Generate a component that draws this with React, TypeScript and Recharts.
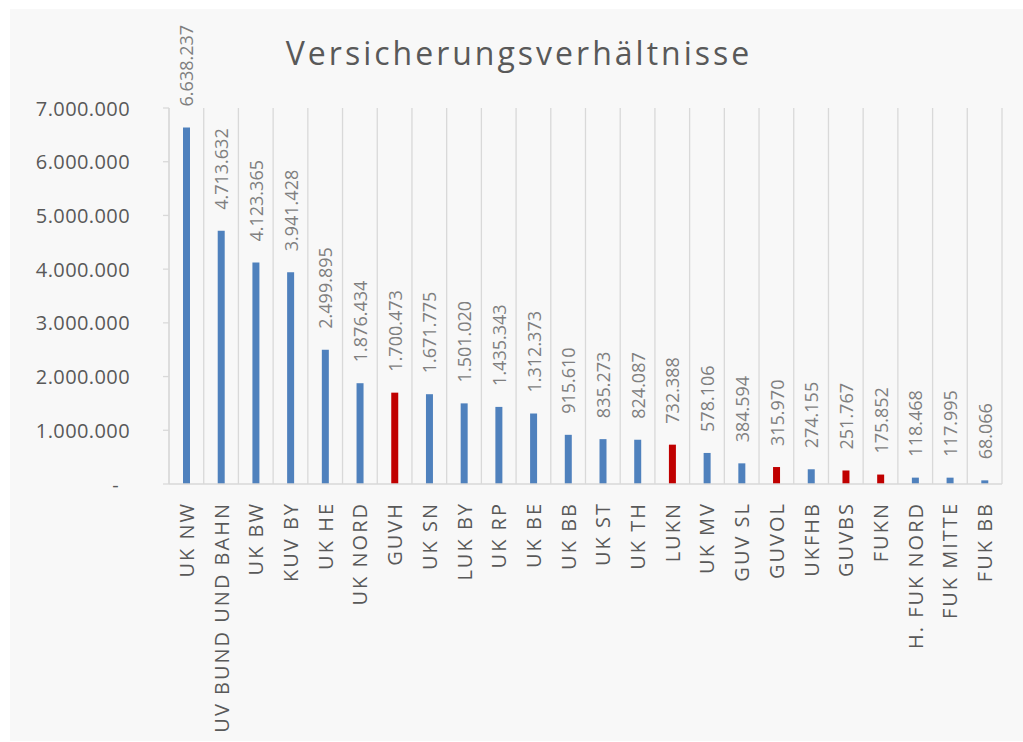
import React from "react";
import { BarChart, Bar, XAxis, YAxis, CartesianGrid, Cell, LabelList } from "recharts";

const categories = [
  "UK NW", "UV BUND UND BAHN", "UK BW", "KUV BY", "UK HE", "UK NORD", "GUVH", "UK SN",
  "LUK BY", "UK RP", "UK BE", "UK BB", "UK ST", "UK TH", "LUKN", "UK MV", "GUV SL",
  "GUVOL", "UKFHB", "GUVBS", "FUKN", "H. FUK NORD", "FUK MITTE", "FUK BB",
];
const values = [
  6638237, 4713632, 4123365, 3941428, 2499895, 1876434, 1700473, 1671775,
  1501020, 1435343, 1312373, 915610, 835273, 824087, 732388, 578106, 384594,
  315970, 274155, 251767, 175852, 118468, 117995, 68066,
];
const highlighted = ["GUVH", "LUKN", "GUVOL", "GUVBS", "FUKN"];
const yTicks = [0, 1000000, 2000000, 3000000, 4000000, 5000000, 6000000, 7000000];
const title = "Versicherungsverhältnisse";

const BLUE = "#4f81bd";
const RED = "#c00000";
const FONT = "'Open Sans', sans-serif";

const data = categories.map((name, i) => ({ name, value: values[i] }));

const fmt = (v: number) => String(Math.round(v)).replace(/\B(?=(\d{3})+(?!\d))/g, ".");

const YTick = (props: any) => {
  const { x, y, payload } = props;
  const v = payload.value;
  return (
    <text x={v === 0 ? x - 11 : x} y={y} textAnchor="end" dominantBaseline="central"
      fill="#595959" fontSize={20} fontFamily={FONT} letterSpacing={0.4}>
      {v === 0 ? "-" : fmt(v)}
    </text>
  );
};

const XTick = (props: any) => {
  const { x, payload } = props;
  const y = 502;
  return (
    <text x={x} y={y} transform={`rotate(-90, ${x}, ${y})`} textAnchor="end"
      dominantBaseline="central" fill="#595959" fontSize={20} fontFamily={FONT} letterSpacing={2}>
      {payload.value}
    </text>
  );
};

const ValueLabel = (props: any) => {
  const { x, y, width, value } = props;
  const cx = x + width / 2;
  const ty = y - 21;
  return (
    <text x={cx} y={ty} transform={`rotate(-90, ${cx}, ${ty})`} textAnchor="start"
      dominantBaseline="central" fill="#7f7f7f" fontSize={18} fontFamily={FONT}>
      {fmt(value)}
    </text>
  );
};

export default function App() {
  return (
    <div style={{ position: "absolute", left: 0, top: 0, width: 1023, height: 742, background: "#ffffff" }}>
      <div style={{ position: "absolute", left: 10, top: 9, width: 1013, height: 732, background: "#f8f8f8" }} />
      <svg width={1023} height={742} style={{ position: "absolute", left: 0, top: 0 }}>
        <text x={519} y={65} textAnchor="middle" fill="#595959" fontSize={32} fontFamily={FONT} letterSpacing={3}>
          {title}
        </text>
      </svg>
      <div style={{ position: "absolute", left: 0, top: 0 }}>
        <BarChart width={1023} height={742} data={data}
          margin={{ top: 108, right: 21, bottom: 0, left: 0 }}>
          <CartesianGrid horizontal={false} stroke="#d9d9d9" strokeWidth={1.3}
            verticalCoordinatesGenerator={({ offset }: any) =>
              categories.map((_, i) => offset.left + (i * offset.width) / categories.length)
                .concat([offset.left + offset.width])} />
          <XAxis dataKey="name" interval={0} height={258} tickLine={false}
            axisLine={{ stroke: "#d9d9d9", strokeWidth: 1.3 }} tick={<XTick />} />
          <YAxis width={169} domain={[0, 7000000]} ticks={yTicks} tickSize={6} tickMargin={33}
            axisLine={{ stroke: "#d9d9d9", strokeWidth: 1.3 }} tickLine={{ stroke: "#d9d9d9", strokeWidth: 1.3 }}
            tick={<YTick />} />
          <Bar dataKey="value" barSize={7} isAnimationActive={false}>
            {data.map((d, i) => (
              <Cell key={i} fill={highlighted.includes(d.name) ? RED : BLUE} />
            ))}
            <LabelList dataKey="value" content={<ValueLabel />} />
          </Bar>
        </BarChart>
      </div>
    </div>
  );
}
